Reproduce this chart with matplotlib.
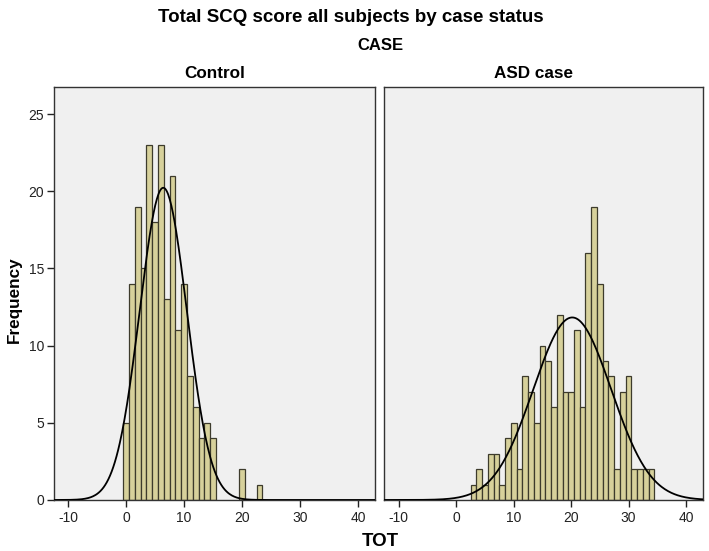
import numpy as np
import matplotlib
matplotlib.use("Agg")
import matplotlib.pyplot as plt

plt.rcParams['font.family'] = ['Liberation Sans', 'DejaVu Sans']
plt.rcParams['axes.unicode_minus'] = False

# region data
# SCQ total score (bin centre) and frequency for each case group
control_scores = [0, 1, 2, 3, 4, 5, 6, 7, 8, 9, 10, 11, 12, 13, 14, 15, 20, 23]
control_counts = [5, 14, 19, 15, 23, 18, 23, 13, 21, 11, 14, 8, 6, 4, 5, 4, 2, 1]

asd_scores = list(range(3, 35))
asd_counts = [1, 2, 1, 3, 3, 1, 4, 5, 2, 8, 7, 5, 10, 9, 6, 12,
              7, 7, 11, 6, 16, 19, 14, 9, 8, 2, 7, 8, 2, 2, 2, 2]

panel_titles = ["Control", "ASD case"]
x_ticks = [-10, 0, 10, 20, 30, 40]
y_ticks = [0, 5, 10, 15, 20, 25]
# endregion

BAR_COLOR = '#d7d19b'
EDGE_COLOR = '#3d3b2c'
PANEL_BG = '#f0f0f0'

fig = plt.figure(figsize=(7.09, 5.51), dpi=100)
axL = fig.add_axes([0.0756, 0.0926, 0.454, 0.7495])
axR = fig.add_axes([0.5423, 0.0926, 0.4495, 0.7495])


def draw_panel(ax, scores, counts):
    """
    Histogram with fitted normal curve for one group
    """
    scores = np.array(scores, dtype=float)
    counts = np.array(counts, dtype=float)
    ax.set_facecolor(PANEL_BG)
    ax.bar(scores, counts, width=1.0, color=BAR_COLOR, edgecolor=EDGE_COLOR,
           linewidth=0.9, zorder=2)

    # normal curve fitted from the same frequencies
    n = counts.sum()
    mean = (scores * counts).sum() / n
    sd = np.sqrt(((scores - mean) ** 2 * counts).sum() / n)
    xs = np.linspace(-12.5, 43, 400)
    ys = n / (sd * np.sqrt(2 * np.pi)) * np.exp(-0.5 * ((xs - mean) / sd) ** 2)
    ax.plot(xs, ys, color='black', linewidth=1.3, zorder=3)

    ax.set_xlim(-12.5, 43)
    ax.set_ylim(0, 26.75)
    ax.set_xticks(x_ticks)
    ax.tick_params(axis='x', direction='out', length=5, width=1, labelsize=10,
                   colors='#222222', pad=3)
    for s in ax.spines.values():
        s.set_color('#333333')
        s.set_linewidth(1.0)


draw_panel(axL, control_scores, control_counts)
draw_panel(axR, asd_scores, asd_counts)

axL.set_yticks(y_ticks)
axL.tick_params(axis='y', direction='out', length=5, width=1, labelsize=10,
                colors='#222222', pad=2)
axR.set_yticks([])

# titles and labels
fig.text(0.495, 0.969, "Total SCQ score all subjects by case status",
         ha='center', va='center', fontsize=13.5, fontweight='bold')
fig.text(0.537, 0.918, "CASE", ha='center', va='center', fontsize=12,
         fontweight='bold')
fig.text(0.3025, 0.867, panel_titles[0], ha='center', va='center',
         fontsize=12.3, fontweight='bold')
fig.text(0.752, 0.867, panel_titles[1], ha='center', va='center',
         fontsize=12.3, fontweight='bold')
fig.text(0.02, 0.4555, "Frequency", ha='center', va='center', rotation=90,
         fontsize=12.3, fontweight='bold')
fig.text(0.537, 0.018, "TOT", ha='center', va='center', fontsize=13.5,
         fontweight='bold')

fig.savefig("out.png", dpi=100)
